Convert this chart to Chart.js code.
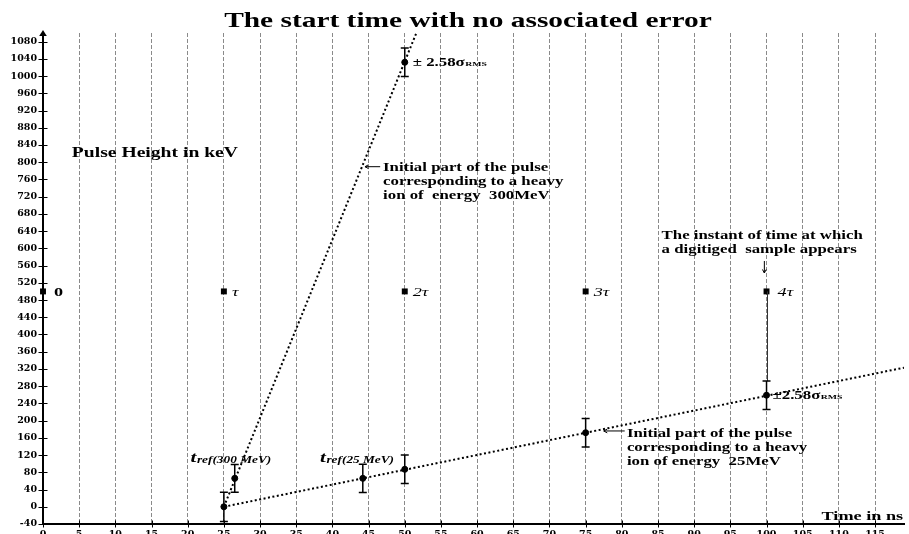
<!DOCTYPE html>
<html>
<head>
<meta charset="utf-8">
<script src="https://cdn.jsdelivr.net/npm/chart.js@4.4.0/dist/chart.umd.min.js"></script>
<style>
  html, body { margin: 0; padding: 0; background: #fff; overflow: hidden; }
  #wrap { width: 909px; height: 534px; }
</style>
</head>
<body>
<div id="wrap"><canvas id="chart" width="909" height="534"></canvas></div>
<script>
// Axis ticks: time in ns and pulse height in keV
const timeTicks = [0, 5, 10, 15, 20, 25, 30, 35, 40, 45, 50, 55, 60, 65, 70, 75, 80, 85, 90, 95, 100, 105, 110, 115];
const heightTicks = [-40, 0, 40, 80, 120, 160, 200, 240, 280, 320, 360, 400, 440, 480, 520, 560, 600, 640, 680, 720, 760, 800, 840, 880, 920, 960, 1000, 1040, 1080];

// Digitised sample instants (multiples of the sampling period)
const sampleTimes = [0, 25, 50, 75, 100];
const sampleLevel = [500, 500, 500, 500, 500];
const sampleLabels = ['0', 'τ', '2τ', '3τ', '4τ'];

// 300 MeV heavy ion: measured points, ±2.58σ half-widths, initial-slope line
const ion300Time = [25, 26.5, 50];
const ion300Height = [0, 66, 1032];
const ion300Err = [34, 32, 33];
const ion300LineTime = [25, 51.6];
const ion300LineHeight = [0, 1100];

// 25 MeV heavy ion: measured points, ±2.58σ half-widths, initial-slope line
const ion25Time = [44.2, 50, 75, 100];
const ion25Height = [66, 87, 172, 259];
const ion25Err = [33, 33, 33, 33];
const ion25LineTime = [25, 119];
const ion25LineHeight = [0, 323];

const zip = (xs, ys) => xs.map((x, i) => ({ x: x, y: ys[i] }));

const SERIF = '"Liberation Serif", "Times New Roman", serif';
const STRETCH = 1.4;
const TICK_FONT = { family: '"DejaVu Serif"', weight: 'bold', size: 9.5 };

function wideText(ctx, str, x, y, font, align) {
  ctx.save();
  ctx.font = font;
  ctx.textAlign = align || 'left';
  ctx.textBaseline = 'alphabetic';
  ctx.fillStyle = '#000';
  ctx.translate(x, y);
  ctx.scale(STRETCH, 1);
  ctx.fillText(str, 0, 0);
  const w = ctx.measureText(str).width * STRETCH;
  ctx.restore();
  return w;
}

function arrow(ctx, x1, y1, x2, y2) {
  // line from (x1,y1) to tip (x2,y2) with an open head
  const a = Math.atan2(y2 - y1, x2 - x1);
  const h = 4;
  ctx.save();
  ctx.strokeStyle = '#000';
  ctx.lineWidth = 1;
  ctx.beginPath();
  ctx.moveTo(x1, y1); ctx.lineTo(x2, y2);
  ctx.moveTo(x2 - h * Math.cos(a - 0.5), y2 - h * Math.sin(a - 0.5));
  ctx.lineTo(x2, y2);
  ctx.lineTo(x2 - h * Math.cos(a + 0.5), y2 - h * Math.sin(a + 0.5));
  ctx.stroke();
  ctx.restore();
}

const decorations = {
  id: 'decorations',
  afterDatasetsDraw(chart) {
    const ctx = chart.ctx;
    const xs = chart.scales.x, ys = chart.scales.y;
    const X = v => xs.getPixelForValue(v);
    const Y = v => ys.getPixelForValue(v);
    const area = chart.chartArea;

    // drop line from the 4τ sample down to the 25 MeV point
    const last = ion25Time.length - 1;
    ctx.save();
    ctx.strokeStyle = '#333';
    ctx.lineWidth = 1;
    ctx.beginPath();
    const dx = Math.round(X(sampleTimes[4])) + 0.5;
    ctx.moveTo(dx, Y(sampleLevel[4]));
    ctx.lineTo(dx, Y(ion25Height[last] + ion25Err[last]));
    ctx.stroke();
    ctx.restore();

    // error bars
    ctx.save();
    ctx.strokeStyle = '#000';
    ctx.lineWidth = 1.5;
    const bars = (tx, hy, er) => tx.forEach((t, i) => {
      const px = X(t), top = Y(hy[i] + er[i]), bot = Y(hy[i] - er[i]);
      ctx.beginPath();
      ctx.moveTo(px, top); ctx.lineTo(px, bot);
      ctx.moveTo(px - 4, top); ctx.lineTo(px + 4, top);
      ctx.moveTo(px - 4, bot); ctx.lineTo(px + 4, bot);
      ctx.stroke();
    });
    bars(ion300Time, ion300Height, ion300Err);
    bars(ion25Time, ion25Height, ion25Err);
    ctx.restore();

    // cross tick marks on both axes
    ctx.save();
    ctx.strokeStyle = '#000';
    ctx.lineWidth = 1;
    ctx.beginPath();
    timeTicks.forEach(t => {
      const px = Math.round(X(t)) + 0.5;
      ctx.moveTo(px, area.bottom - 3.5); ctx.lineTo(px, area.bottom + 3.5);
    });
    heightTicks.forEach(h => {
      const py = Math.round(Y(h)) + 0.5;
      ctx.moveTo(area.left - 4.5, py); ctx.lineTo(area.left + 4.5, py);
    });
    ctx.stroke();
    // arrow head on the vertical axis
    ctx.fillStyle = '#000';
    ctx.beginPath();
    ctx.moveTo(area.left, area.top - 3);
    ctx.lineTo(area.left - 3.8, area.top + 3);
    ctx.lineTo(area.left + 3.8, area.top + 3);
    ctx.closePath();
    ctx.fill();
    ctx.restore();

    // title
    wideText(ctx, 'The start time with no associated error', 468, 27, 'bold 21px ' + SERIF, 'center');

    // axis titles
    wideText(ctx, 'Pulse Height in keV', X(3.99), Y(812), 'bold 14px ' + SERIF);
    wideText(ctx, 'Time in ns', X(107.6), Y(-29.6), 'bold 13px ' + SERIF);

    // sample instant labels
    sampleTimes.forEach((t, i) => {
      const lab = sampleLabels[i];
      const off = (i === 0 || i === 4) ? 11 : 8;
      const font = i === 0 ? 'bold 13px ' + SERIF : 'italic 13px ' + SERIF;
      wideText(ctx, lab, X(t) + off, Y(sampleLevel[i]) + 4.5, font);
    });

    // ±2.58σ labels
    const sigma = (t, h, gap, txt) => {
      const x0 = X(t) + gap, y0 = Y(h) + 4;
      const w = wideText(ctx, txt, x0, y0, 'bold 12px ' + SERIF);
      wideText(ctx, 'RMS', x0 + w + 0.5, y0, 'bold 7px ' + SERIF);
    };
    sigma(ion300Time[2], ion300Height[2], 8, '± 2.58σ');
    sigma(ion25Time[3], ion25Height[3], 6, '±2.58σ');

    // reference-time labels
    const tref = (t, h, sub) => {
      const x0 = X(t), y0 = Y(h);
      const w = wideText(ctx, 't', x0, y0, 'italic bold 15px ' + SERIF);
      wideText(ctx, sub, x0 + w + 0.5, y0 + 1.5, 'italic bold 9.5px ' + SERIF);
    };
    tref(20.4, 104, 'ref(300 MeV)');
    tref(38.3, 104, 'ref(25 MeV)');

    // pulse annotations
    const block = (t, h, lines) => lines.forEach((s, i) =>
      wideText(ctx, s, X(t), Y(h) + i * 14, 'bold 12px ' + SERIF));
    block(47.0, 779.6, ['Initial part of the pulse', 'corresponding to a heavy', 'ion of  energy  300MeV']);
    arrow(ctx, X(46.6), Y(789.6), X(44.5), Y(789.6));
    block(80.7, 162, ['Initial part of the pulse', 'corresponding to a heavy', 'ion of energy  25MeV']);
    arrow(ctx, X(80.4), Y(176), X(77.5), Y(176));
    block(85.5, 621.7, ['The instant of time at which', 'a digitiged  sample appears']);
    arrow(ctx, X(99.7), Y(570.6), X(99.7), Y(542.8));
  }
};

new Chart(document.getElementById('chart'), {
  type: 'scatter',
  data: {
    datasets: [
      { type: 'line', data: zip(ion300LineTime, ion300LineHeight), borderColor: '#000', borderWidth: 2,
        borderDash: [2, 2.5], pointRadius: 0, fill: false, tension: 0 },
      { type: 'line', data: zip(ion25LineTime, ion25LineHeight), borderColor: '#000', borderWidth: 2,
        borderDash: [2, 2.5], pointRadius: 0, fill: false, tension: 0 },
      { data: zip(ion300Time, ion300Height), pointRadius: 3, backgroundColor: '#000', borderColor: '#000', clip: false },
      { data: zip(ion25Time, ion25Height), pointRadius: 3, backgroundColor: '#000', borderColor: '#000', clip: false },
      { data: zip(sampleTimes, sampleLevel), pointStyle: 'rect', pointRadius: 4.2, backgroundColor: '#000',
        borderColor: '#000', borderWidth: 0, clip: false }
    ]
  },
  options: {
    responsive: false,
    animation: false,
    devicePixelRatio: 1,
    layout: { padding: { top: 33, left: 0, right: 0, bottom: 0 } },
    plugins: { legend: { display: false }, tooltip: { enabled: false }, title: { display: false } },
    scales: {
      x: {
        type: 'linear', min: 0, max: 119,
        afterBuildTicks: s => { s.ticks = timeTicks.map(v => ({ value: v })); },
        afterFit: s => { s.height = 10; s.paddingLeft = 0; s.paddingRight = 0; },
        ticks: { autoSkip: false, maxRotation: 0, padding: 5, color: '#000', font: TICK_FONT,
                 callback: v => String(v) },
        grid: { drawTicks: false, lineWidth: 1,
                color: c => (c.tick && c.tick.value === 0) ? 'rgba(0,0,0,0)' : '#8a8a8a' },
        border: { display: true, color: '#000', width: 2, dash: [4, 2] }
      },
      y: {
        type: 'linear', min: -40, max: 1100,
        afterBuildTicks: s => { s.ticks = heightTicks.map(v => ({ value: v })); },
        afterFit: s => { s.width = 43; s.paddingTop = 0; s.paddingBottom = 0; },
        ticks: { autoSkip: false, padding: 6, color: '#000', font: TICK_FONT,
                 callback: v => String(v) },
        grid: { display: false, drawTicks: false },
        border: { display: true, color: '#000', width: 2 }
      }
    }
  },
  plugins: [decorations]
});
</script>
</body>
</html>
